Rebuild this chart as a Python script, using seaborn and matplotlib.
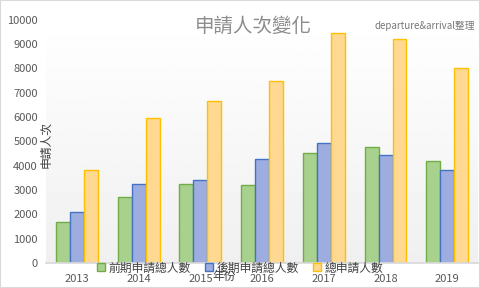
import pandas as pd
import numpy as np
import seaborn as sns
import matplotlib.pyplot as plt
from matplotlib.patches import Rectangle

# 資料
years = ["2013", "2014", "2015", "2016", "2017", "2018", "2019"]
early = [1680, 2700, 3240, 3200, 4520, 4760, 4190]
late = [2090, 3240, 3400, 4270, 4930, 4430, 3820]
total = [3820, 5970, 6670, 7490, 9450, 9210, 8010]
series = ["前期申請總人數", "後期申請總人數", "總申請人數"]

df = pd.DataFrame({
    "年份": years * 3,
    "人次": early + late + total,
    "類別": [series[0]] * 7 + [series[1]] * 7 + [series[2]] * 7,
})

sns.set_theme(style="white")
plt.rcParams['font.family'] = ['Noto Sans CJK TC', 'DejaVu Sans']

fills = ["#a9d18e", "#9dade0", "#ffd891"]
edges = ["#70ad47", "#4472c4", "#ffc000"]

fig = plt.figure(figsize=(4.8, 2.88), dpi=100)
ax = fig.add_axes([0.096, 0.087, 0.9, 0.844])

sns.barplot(data=df, x="年份", y="人次", hue="類別", palette=fills, saturation=1,
            width=0.68, gap=0, ax=ax, legend=True, zorder=2)

for cont, ec in zip(ax.containers, edges):
    for bar in cont:
        bar.set_edgecolor(ec)
        bar.set_linewidth(1.0)

# 背景漸層
grad = np.linspace(0.94, 1.0, 100).reshape(-1, 1)
ax.imshow(grad, cmap="gray", vmin=0, vmax=1, aspect="auto",
          extent=(-0.5, 6.5, 0, 10000), origin="lower", zorder=0)
ax.set_xlim(-0.5, 6.5)
ax.set_ylim(0, 10000)
ax.set_yticks(range(0, 10001, 1000))

for s in ["top", "right", "left"]:
    ax.spines[s].set_visible(False)
ax.spines["bottom"].set_color("#d9d9d9")
ax.tick_params(axis="both", length=0, labelsize=8, colors="#595959", pad=6)
ax.tick_params(axis="x", pad=8)
ax.set_xlabel("")
ax.set_ylabel("")

fig.text(0.095, 0.5, "申請人次", rotation=90, fontsize=8.5, color="#404040",
         ha="center", va="center")
fig.text(0.468, 0.04, "年份", fontsize=8.5, color="#404040",
         ha="center", va="center")

fig.text(0.528, 0.91, "申請人次變化", fontsize=14, color="#8c8c8c",
         ha="center", va="center")
fig.text(0.99, 0.91, "departure&arrival整理", fontsize=7, color="#767676",
         ha="right", va="center")

handles, labels = ax.get_legend_handles_labels()
ax.get_legend().remove()
for h, fc, ec in zip(handles, fills, edges):
    h.set_facecolor(fc)
    h.set_edgecolor(ec)
    h.set_linewidth(1.0)
leg = fig.legend(handles, labels, loc="center", bbox_to_anchor=(0.5, 0.07), ncol=3,
                 frameon=False, fontsize=8.5, handlelength=0.7, handleheight=0.7,
                 handletextpad=0.3, columnspacing=1.2, labelcolor="#404040")

fig.patches.append(Rectangle((0, 0), 1, 1, transform=fig.transFigure,
                             fill=False, edgecolor="#d9d9d9", linewidth=1.5))

fig.savefig("out.png", dpi=100, facecolor="white")
